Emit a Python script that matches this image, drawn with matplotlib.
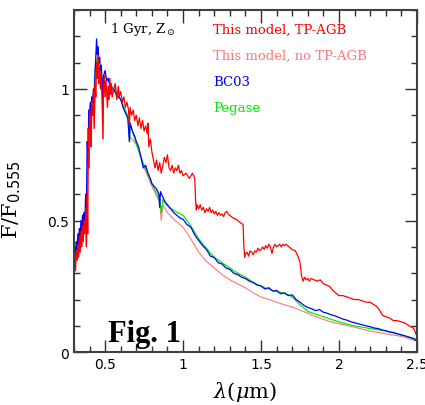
import numpy as np
import matplotlib
matplotlib.use('Agg')
import matplotlib.pyplot as plt
from matplotlib.ticker import MultipleLocator

plt.rcParams['mathtext.fontset'] = 'dejavuserif'

# This model, TP-AGB
wl_tp = [0.300, 0.305, 0.310, 0.315, 0.320, 0.325, 0.330, 0.335, 0.340, 0.345,
         0.350, 0.355, 0.360, 0.365, 0.370, 0.375, 0.380, 0.385, 0.388, 0.392,
         0.395, 0.400, 0.405, 0.410, 0.415, 0.420, 0.425, 0.430, 0.435, 0.440,
         0.445, 0.450, 0.455, 0.460, 0.465, 0.470, 0.475, 0.480, 0.486, 0.490,
         0.495, 0.500, 0.505, 0.510, 0.515, 0.520, 0.525, 0.530, 0.535, 0.540,
         0.545, 0.555, 0.565, 0.575, 0.585, 0.590, 0.600, 0.610, 0.620, 0.630,
         0.640, 0.650, 0.656, 0.660, 0.670, 0.680, 0.690, 0.700, 0.710, 0.720,
         0.730, 0.740, 0.750, 0.760, 0.770, 0.775, 0.780, 0.790, 0.800, 0.810,
         0.820, 0.830, 0.840, 0.850, 0.860, 0.870, 0.880, 0.890, 0.900, 0.910,
         0.920, 0.930, 0.940, 0.950, 0.960, 0.970, 0.980, 0.990, 1.000, 1.020,
         1.040, 1.060, 1.075, 1.080, 1.085, 1.090, 1.100, 1.110, 1.120, 1.130,
         1.140, 1.150, 1.160, 1.170, 1.180, 1.190, 1.200, 1.210, 1.220, 1.230,
         1.240, 1.250, 1.260, 1.270, 1.280, 1.290, 1.300, 1.320, 1.340, 1.360,
         1.385, 1.390, 1.395, 1.400, 1.410, 1.420, 1.430, 1.440, 1.450, 1.460,
         1.470, 1.480, 1.490, 1.500, 1.510, 1.520, 1.530, 1.540, 1.550, 1.560,
         1.570, 1.580, 1.590, 1.600, 1.620, 1.630, 1.640, 1.650, 1.660, 1.680,
         1.700, 1.720, 1.740, 1.750, 1.760, 1.770, 1.780, 1.790, 1.800, 1.810,
         1.820, 1.840, 1.860, 1.880, 1.900, 1.920, 1.940, 1.960, 1.980, 2.000,
         2.025, 2.050, 2.075, 2.100, 2.125, 2.150, 2.175, 2.200, 2.225, 2.240,
         2.260, 2.280, 2.300, 2.325, 2.350, 2.375, 2.400, 2.425, 2.450, 2.480,
         2.500]
f_tp = [0.33, 0.37, 0.31, 0.38, 0.35, 0.41, 0.36, 0.44, 0.38, 0.46,
        0.40, 0.48, 0.42, 0.50, 0.45, 0.52, 0.40, 0.60, 0.45, 0.85,
        0.70, 0.92, 0.88, 0.78, 0.95, 0.90, 0.99, 0.85, 1.02, 0.97,
        1.10, 1.04, 1.13, 1.02, 1.08, 1.00, 1.06, 0.98, 0.81, 1.00,
        1.05, 0.97, 1.03, 0.99, 0.93, 1.01, 0.96, 1.04, 0.98, 1.02,
        0.97, 1.00, 1.02, 0.96, 1.01, 0.97, 0.99, 0.95, 0.97, 0.93,
        0.95, 0.92, 0.86, 0.93, 0.90, 0.92, 0.88, 0.90, 0.86, 0.89,
        0.85, 0.88, 0.84, 0.86, 0.83, 0.87, 0.78, 0.81, 0.76, 0.73,
        0.70, 0.73, 0.69, 0.72, 0.68, 0.71, 0.74, 0.72, 0.75, 0.70,
        0.69, 0.71, 0.68, 0.70, 0.69, 0.71, 0.68, 0.69, 0.67, 0.68,
        0.66, 0.68, 0.66, 0.58, 0.54, 0.56, 0.545, 0.56, 0.54, 0.55,
        0.53, 0.545, 0.535, 0.55, 0.53, 0.54, 0.525, 0.535, 0.52, 0.53,
        0.52, 0.525, 0.515, 0.53, 0.535, 0.525, 0.52, 0.51, 0.505, 0.495,
        0.485, 0.40, 0.36, 0.375, 0.38, 0.365, 0.385, 0.38, 0.37, 0.385,
        0.38, 0.395, 0.385, 0.39, 0.40, 0.39, 0.405, 0.395, 0.41, 0.40,
        0.375, 0.40, 0.41, 0.40, 0.41, 0.40, 0.41, 0.405, 0.41, 0.40,
        0.39, 0.385, 0.36, 0.34, 0.29, 0.27, 0.285, 0.275, 0.28, 0.27,
        0.28, 0.275, 0.27, 0.275, 0.26, 0.255, 0.25, 0.235, 0.225, 0.215,
        0.215, 0.21, 0.205, 0.20, 0.20, 0.195, 0.19, 0.19, 0.18, 0.175,
        0.16, 0.14, 0.135, 0.13, 0.12, 0.12, 0.115, 0.11, 0.10, 0.09,
        0.06]

# This model, no TP-AGB (same as TP-AGB model blueward of 0.6 um)
wl_notp = [0.600, 0.650, 0.656, 0.700, 0.750, 0.800, 0.850, 0.860, 0.870, 0.900,
           0.950, 1.000, 1.050, 1.100, 1.150, 1.200, 1.250, 1.300, 1.350, 1.400,
           1.450, 1.500, 1.550, 1.600, 1.650, 1.700, 1.750, 1.800, 1.850, 1.900,
           1.950, 2.000, 2.100, 2.200, 2.300, 2.400, 2.500]
f_notp = [0.96, 0.89, 0.82, 0.79, 0.70, 0.63, 0.57, 0.50, 0.56, 0.53,
          0.50, 0.475, 0.43, 0.38, 0.345, 0.32, 0.295, 0.275, 0.26, 0.245,
          0.225, 0.21, 0.20, 0.19, 0.18, 0.172, 0.16, 0.148, 0.135, 0.125,
          0.115, 0.108, 0.095, 0.08, 0.07, 0.06, 0.042]

# BC03
wl_bc = [0.300, 0.305, 0.310, 0.315, 0.320, 0.325, 0.330, 0.335, 0.340, 0.345,
         0.350, 0.355, 0.360, 0.365, 0.370, 0.375, 0.380, 0.385, 0.390, 0.395,
         0.400, 0.405, 0.410, 0.415, 0.420, 0.425, 0.430, 0.435, 0.440, 0.445,
         0.450, 0.455, 0.460, 0.465, 0.470, 0.475, 0.480, 0.486, 0.490, 0.500,
         0.510, 0.520, 0.530, 0.540, 0.555, 0.570, 0.585, 0.600, 0.615, 0.630,
         0.645, 0.656, 0.660, 0.675, 0.690, 0.700, 0.715, 0.730, 0.745, 0.760,
         0.775, 0.790, 0.800, 0.815, 0.830, 0.845, 0.850, 0.855, 0.870, 0.885,
         0.900, 0.920, 0.940, 0.960, 0.980,
         1.000, 1.025, 1.050, 1.075, 1.100, 1.125, 1.150, 1.175, 1.200, 1.225,
         1.250, 1.275, 1.300, 1.325, 1.350, 1.375, 1.400, 1.425, 1.450, 1.475,
         1.500, 1.525, 1.550, 1.575, 1.600, 1.625, 1.650, 1.675, 1.700, 1.725,
         1.750, 1.775, 1.800, 1.825, 1.850, 1.875, 1.900, 1.925, 1.950, 1.975,
         2.000, 2.025, 2.050, 2.075, 2.100, 2.125, 2.150, 2.175, 2.200, 2.225,
         2.250, 2.275, 2.300, 2.325, 2.350, 2.375, 2.400, 2.425, 2.450, 2.475,
         2.500]
f_bc = [0.36, 0.40, 0.37, 0.42, 0.39, 0.45, 0.41, 0.47, 0.44, 0.50,
        0.46, 0.52, 0.48, 0.53, 0.50, 0.60, 0.55, 0.80, 0.72, 0.92,
        0.90, 0.95, 0.88, 0.97, 0.93, 1.00, 0.90, 1.06, 1.12, 1.19,
        1.13, 1.16, 1.10, 1.12, 1.07, 1.09, 1.04, 0.92, 1.05, 1.07,
        1.03, 1.04, 1.01, 1.00, 1.00, 0.98, 0.97, 0.96, 0.93, 0.91,
        0.89, 0.80, 0.87, 0.84, 0.82, 0.80, 0.78, 0.74, 0.70, 0.71,
        0.68, 0.66, 0.64, 0.63, 0.62, 0.60, 0.55, 0.61, 0.59, 0.57,
        0.56, 0.545, 0.53, 0.52, 0.51,
        0.505, 0.485, 0.475, 0.445, 0.425, 0.405, 0.39, 0.365, 0.36, 0.34,
        0.335, 0.32, 0.315, 0.30, 0.295, 0.285, 0.28, 0.27, 0.265, 0.255,
        0.252, 0.24, 0.245, 0.232, 0.235, 0.222, 0.225, 0.215, 0.218, 0.20,
        0.19, 0.178, 0.17, 0.165, 0.158, 0.162, 0.152, 0.148, 0.142, 0.138,
        0.132, 0.126, 0.122, 0.116, 0.112, 0.108, 0.104, 0.10, 0.097, 0.092,
        0.09, 0.085, 0.082, 0.077, 0.075, 0.07, 0.066, 0.062, 0.057, 0.052,
        0.043]

# Pegase
wl_pg = [0.30, 0.32, 0.34, 0.36, 0.38, 0.39, 0.40, 0.42, 0.44, 0.45,
         0.46, 0.48, 0.486, 0.49, 0.50, 0.52, 0.555, 0.60, 0.65, 0.656,
         0.66, 0.70, 0.75, 0.80, 0.85, 0.86, 0.87, 0.90, 0.95, 1.00,
         1.05, 1.10, 1.15, 1.20, 1.25, 1.30, 1.35, 1.40, 1.45, 1.50,
         1.55, 1.60, 1.65, 1.70, 1.75, 1.80, 1.85, 1.90, 1.95, 2.00,
         2.10, 2.20, 2.30, 2.40, 2.50]
f_pg = [0.36, 0.40, 0.44, 0.48, 0.55, 0.75, 0.90, 0.93, 1.10, 1.12,
        1.09, 1.04, 0.93, 1.04, 1.05, 1.03, 1.00, 0.96, 0.89, 0.80,
        0.87, 0.79, 0.71, 0.64, 0.58, 0.53, 0.58, 0.555, 0.535, 0.52,
        0.48, 0.43, 0.395, 0.36, 0.34, 0.32, 0.30, 0.285, 0.265, 0.25,
        0.24, 0.23, 0.225, 0.21, 0.18, 0.155, 0.145, 0.135, 0.125, 0.115,
        0.10, 0.09, 0.08, 0.065, 0.05]

labels = ['This model, TP-AGB', 'This model, no TP-AGB', 'BC03', 'Pegase']
colors = ['#ff0000', '#ff7878', '#0000ff', '#00ee00']

# light red curve follows the TP-AGB model below 0.6 um
wl_notp_full = [w for w in wl_tp if w < 0.6] + wl_notp
f_notp_full = [f for w, f in zip(wl_tp, f_tp) if w < 0.6] + f_notp

fig = plt.figure(figsize=(4.25, 4.06), dpi=100)
ax = fig.add_axes([0.174, 0.130, 0.807, 0.843])

ax.plot(wl_notp_full, f_notp_full, color=colors[1], lw=0.8)
ax.plot(wl_pg, f_pg, color=colors[3], lw=0.9)
ax.plot(wl_bc, f_bc, color=colors[2], lw=0.9)
ax.plot(wl_tp, f_tp, color=colors[0], lw=0.9)

ax.set_xlim(0.3, 2.5)
ax.set_ylim(0, 1.3)
ax.xaxis.set_minor_locator(MultipleLocator(0.1))
ax.yaxis.set_minor_locator(MultipleLocator(0.1))
ax.set_xticks([0.5, 1, 1.5, 2, 2.5])
ax.set_xticklabels(['0.5', '1', '1.5', '2', '2.5'])
ax.set_yticks([0, 0.5, 1])
ax.set_yticklabels(['0', '0.5', '1'])
ax.tick_params(which='both', direction='in', top=True, right=True,
               labelsize=10, color='#303030')
ax.tick_params(which='major', length=9, width=1)
ax.tick_params(which='minor', length=4.5, width=1)
for sp in ax.spines.values():
    sp.set_linewidth(1.5)
    sp.set_color('#404040')

ax.set_xlabel(r'$\lambda(\mu\mathrm{m})$', fontsize=15, labelpad=6)
ax.set_ylabel(r'$\mathrm{F}/\mathrm{F}_{\mathsf{0.555}}$', fontsize=15, labelpad=4)
ax.yaxis.set_label_coords(-0.15, 0.45)

ax.text(0.105, 0.945, r'1 Gyr, Z$_\odot$', transform=ax.transAxes,
        family='DejaVu Serif', fontsize=9.5, va='center')
for i, (lab, c) in enumerate(zip(labels, colors)):
    ax.text(0.405, 0.945 - i * 0.077, lab, color=c, transform=ax.transAxes,
            family='DejaVu Serif', fontsize=9.5, va='center')

ax.text(0.1, 0.033, 'Fig. 1', transform=ax.transAxes,
        family='Liberation Serif', fontweight='bold', fontsize=22)

fig.savefig('out.png', dpi=100)
